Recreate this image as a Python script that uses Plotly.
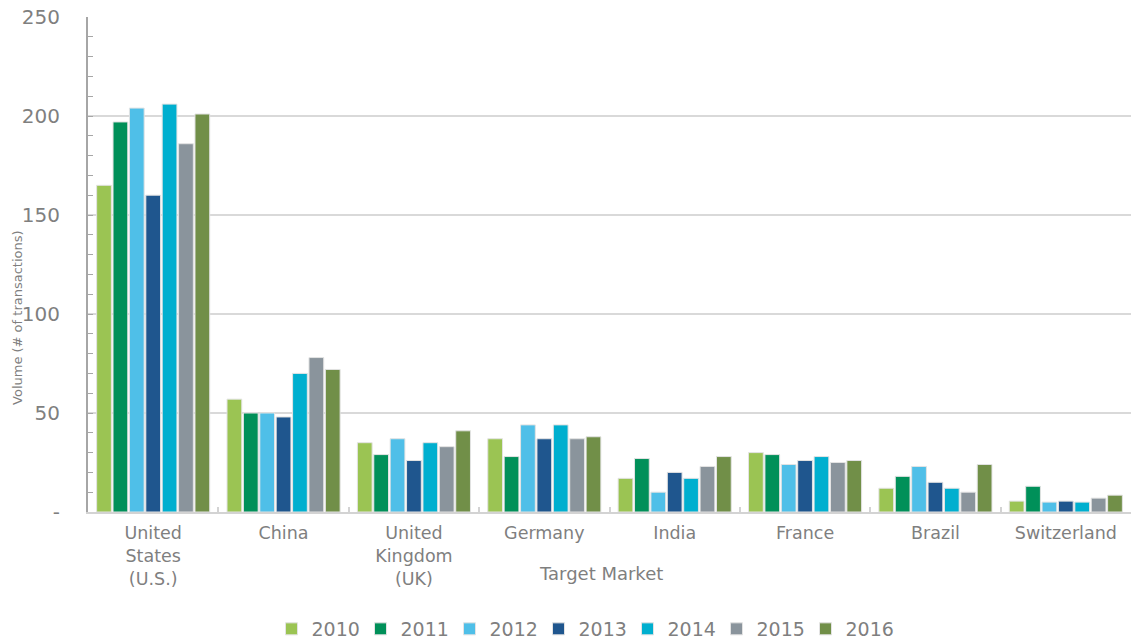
import plotly.graph_objects as go

categories = ["United<br>States<br>(U.S.)", "China", "United<br>Kingdom<br>(UK)", "Germany",
              "India", "France", "Brazil", "Switzerland"]
years = ["2010", "2011", "2012", "2013", "2014", "2015", "2016"]
v2010 = [165, 57, 35, 37, 17, 30, 12, 5.5]
v2011 = [197, 50, 29, 28, 27, 29, 18, 13]
v2012 = [204, 50, 37, 44, 10, 24, 23, 5]
v2013 = [160, 48, 26, 37, 20, 26, 15, 5.5]
v2014 = [206, 70, 35, 44, 17, 28, 12, 5]
v2015 = [186, 78, 33, 37, 23, 25, 10, 7]
v2016 = [201, 72, 41, 38, 28, 26, 24, 8.5]
series = [v2010, v2011, v2012, v2013, v2014, v2015, v2016]
colors = ["#9BC453", "#009059", "#4FBFE8", "#1F568E", "#00AFCF", "#8A949C", "#718F48"]
ytick_vals = [0, 50, 100, 150, 200, 250]
ytick_text = ["-", "50", "100", "150", "200", "250"]

FONT = "DejaVu Sans"
GRAY = "#7f7f7f"

fig = go.Figure()
for yr, vals, col in zip(years, series, colors):
    fig.add_trace(go.Bar(
        name=yr, x=categories, y=vals,
        marker=dict(color=col, line=dict(color="#e3e3e3", width=1)),
    ))

fig.update_layout(
    width=1131, height=643,
    margin=dict(l=88, r=0, t=17, b=131),
    paper_bgcolor="white", plot_bgcolor="white",
    barmode="group", bargap=0.12, bargroupgap=0.1,
    font=dict(family=FONT, color=GRAY),
    showlegend=True,
    legend=dict(orientation="h", x=0.4746, xanchor="center",
                yref="container", y=1 - 629 / 643, yanchor="middle",
                font=dict(family=FONT, size=19, color=GRAY),
                entrywidth=44, entrywidthmode="pixels", itemwidth=30),
    xaxis=dict(
        automargin=False,
        showline=True, linecolor="#d3d3d3", linewidth=2,
        ticks="inside", ticklen=5, tickcolor="#d3d3d3", tickwidth=2, tickson="boundaries",
        tickfont=dict(family=FONT, size=17.5, color=GRAY),
        ticklabelstandoff=4,
        showgrid=False,
    ),
    yaxis=dict(
        automargin=False,
        range=[0, 250], tickvals=ytick_vals, ticktext=ytick_text,
        tickfont=dict(family=FONT, size=20, color=GRAY),
        showgrid=True, gridcolor="#d9d9d9", gridwidth=2,
        showline=True, linecolor="#a6a6a6", linewidth=2,
        ticks="inside", ticklen=5, tickcolor="#a6a6a6", tickwidth=1,
        minor=dict(dtick=10, ticks="inside", ticklen=5, tickcolor="#a6a6a6", showgrid=False),
        ticklabelstandoff=22, zeroline=False,
    ),
    annotations=[
        dict(text="Volume (# of transactions)", textangle=-90, xref="paper", yref="paper",
             x=-(88 - 18) / 1043, y=0.392, xanchor="center", yanchor="middle",
             showarrow=False, font=dict(family=FONT, size=13, color=GRAY)),
        dict(text="Target Market", xref="paper", yref="paper", x=0.492, y=-0.125,
             xanchor="center", yanchor="middle", showarrow=False,
             font=dict(family=FONT, size=18, color=GRAY)),
    ],
)

fig.write_html("out.html", config={"displayModeBar": False},
               post_script="document.body.style.margin='0';")
